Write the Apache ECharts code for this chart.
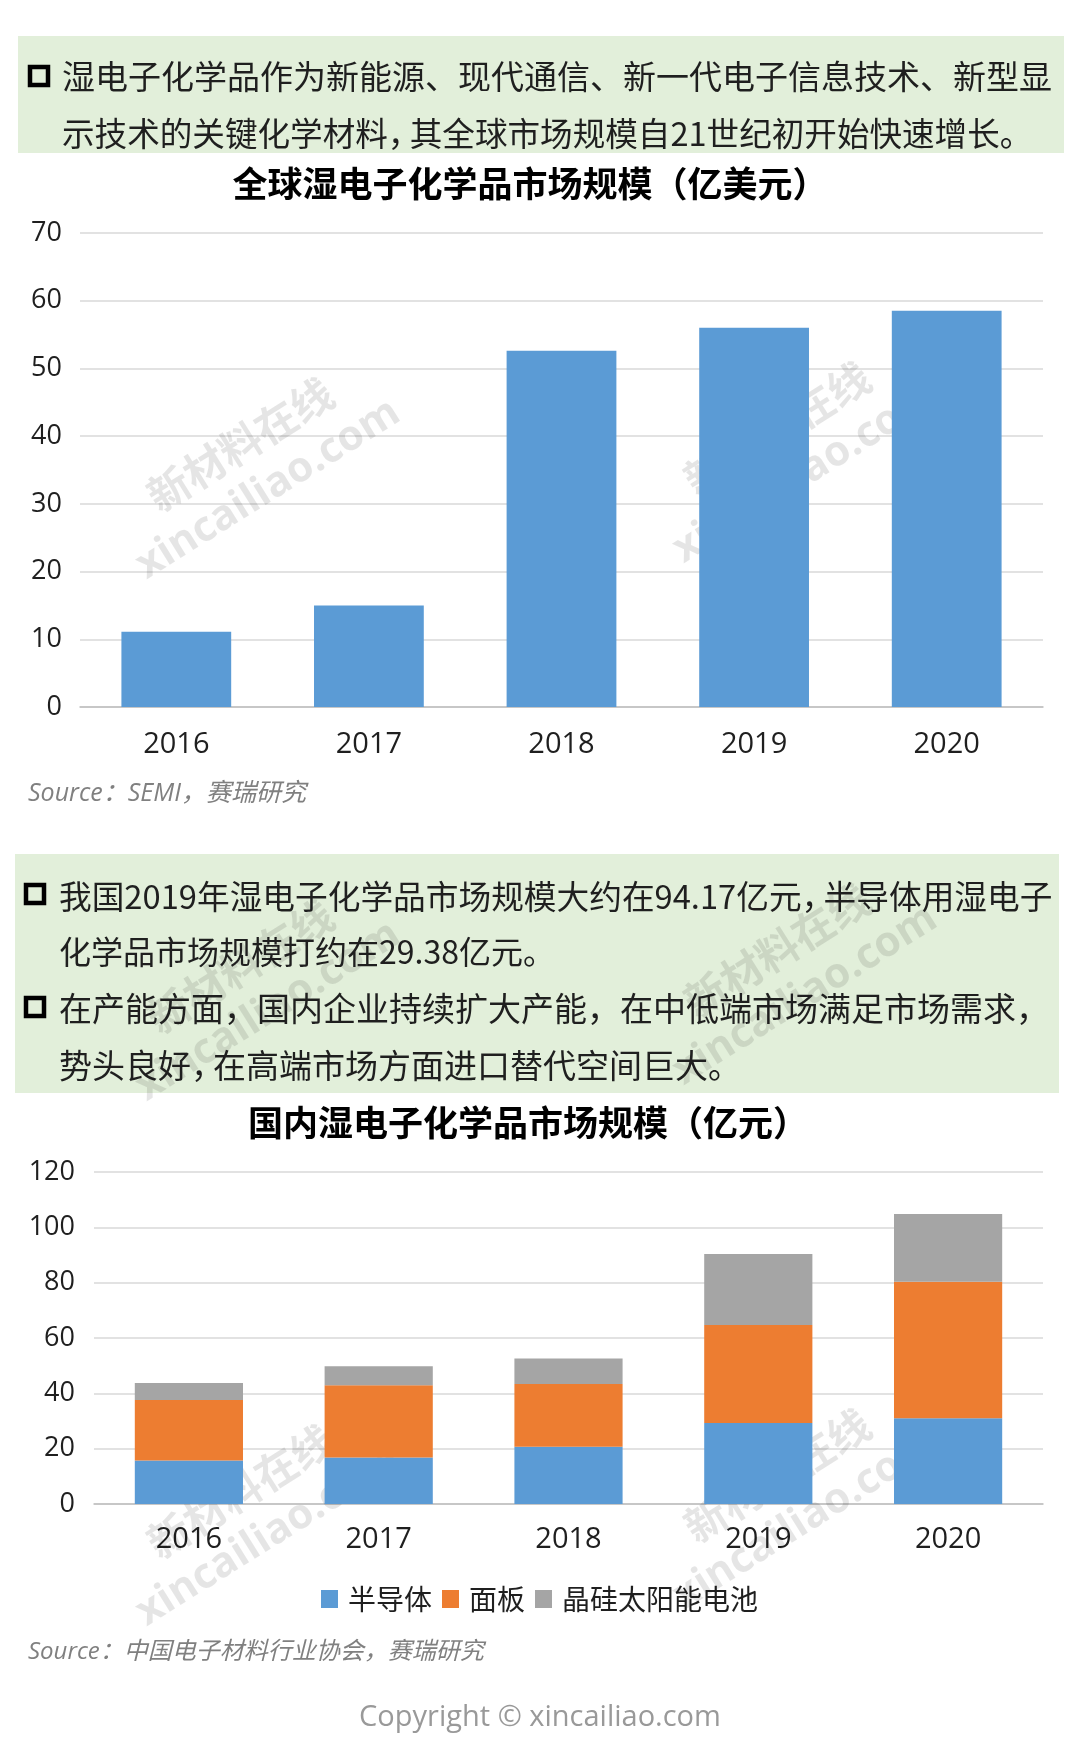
<!DOCTYPE html>
<html>
<head>
<meta charset="utf-8">
<script src="https://cdn.jsdelivr.net/npm/echarts@6/dist/echarts.min.js"></script>
<style>
html,body{margin:0;padding:0;background:#fff;}
#main{width:1080px;height:1757px;}
</style>
</head>
<body>
<div id="main"></div>
<script>
// ---- data ----
const years = ['2016', '2017', '2018', '2019', '2020'];
const globalMarket = [11.1, 15.0, 52.6, 56.0, 58.5];
const semiconductor = [15.7, 16.8, 20.7, 29.3, 31.0];
const panel = [21.9, 26.1, 22.7, 35.4, 49.3];
const solar = [6.1, 6.9, 9.2, 25.7, 24.5];
const seriesNames = ['半导体', '面板', '晶硅太阳能电池'];
const title1 = '全球湿电子化学品市场规模（亿美元）';
const title2 = '国内湿电子化学品市场规模（亿元）';
const box1Lines = ['湿电子化学品作为新能源、现代通信、新一代电子信息技术、新型显',
                   '示技术的关键化学材料，其全球市场规模自21世纪初开始快速增长。'];
const box2Lines = ['我国2019年湿电子化学品市场规模大约在94.17亿元，半导体用湿电子',
                   '化学品市场规模打约在29.38亿元。',
                   '在产能方面，国内企业持续扩大产能，在中低端市场满足市场需求，',
                   '势头良好，在高端市场方面进口替代空间巨大。'];
const source1 = 'Source：SEMI，赛瑞研究';
const source2 = 'Source：中国电子材料行业协会，赛瑞研究';
const copyright = 'Copyright © xincailiao.com';

const CJK = '"Noto Sans CJK SC", "Noto Sans", sans-serif';
const LAT = '"Open Sans", "Noto Sans CJK SC", sans-serif';
const colors = ['#5B9BD5', '#ED7D31', '#A5A5A5'];

function txt(text, x, y, opt) {
  opt = opt || {};
  const size = opt.size || 33;
  const family = opt.family || CJK;
  const fill = opt.color || '#1f1f1f';
  let content = text;
  let rich;
  if (opt.narrowComma) {
    content = text.replace(/，/g, '{c|，}');
    rich = { c: { width: Math.round(size * 0.66), fontSize: size, fontFamily: family, fill: fill,
                  verticalAlign: 'middle', textVerticalAlign: 'middle' } };
  }
  const style = {
    text: content,
    fontSize: size,
    fontFamily: family,
    fontWeight: opt.weight || 'normal',
    fontStyle: opt.style || 'normal',
    fill: fill,
    align: opt.align || 'left', textAlign: opt.align || 'left',
    verticalAlign: 'middle', textVerticalAlign: 'middle'
  };
  if (rich) style.rich = rich;
  return { type: 'text', x: x, y: y, z: opt.z || 5, silent: true, style: style };
}
function bullet(x, y) {
  return { type: 'rect', z: 5, silent: true,
    shape: { x: x, y: y, width: 18, height: 18 },
    style: { fill: 'none', stroke: '#000', lineWidth: 4.5 } };
}
function wm(cx, cy) {
  const st = (t, s) => ({ text: t, fontSize: s, fontWeight: 'bold', fontFamily: LAT,
    fill: 'rgba(0,0,0,0.10)', align: 'center', textAlign: 'center',
    verticalAlign: 'middle', textVerticalAlign: 'middle' });
  return { type: 'group', x: cx, y: cy, rotation: 32 * Math.PI / 180, z: 3, silent: true,
    children: [
      { type: 'text', x: 0, y: -24, z: 3, style: st('新材料在线', 42) },
      { type: 'text', x: 0, y: 25, z: 3, style: st('xincailiao.com', 42) }
    ] };
}

const graphics = [
  { type: 'rect', z: 1, silent: true, shape: { x: 18, y: 36, width: 1046, height: 117 }, style: { fill: '#E2EFDA' } },
  { type: 'rect', z: 1, silent: true, shape: { x: 15, y: 854, width: 1044, height: 239 }, style: { fill: '#E2EFDA' } },
  bullet(30, 67),
  txt(box1Lines[0], 62, 76),
  txt(box1Lines[1], 62, 134, { size: 32.6, narrowComma: true }),
  txt(title1, 530, 184, { size: 35, weight: 'bold', color: '#000', align: 'center' }),
  txt(source1, 28, 794, { size: 25, family: LAT, style: 'italic', color: '#808080' }),
  bullet(26, 885),
  txt(box2Lines[0], 59, 897, { size: 32.7, narrowComma: true }),
  txt(box2Lines[1], 59, 952, { size: 32 }),
  bullet(26, 998),
  txt(box2Lines[2], 59, 1008),
  txt(box2Lines[3], 59, 1065, { narrowComma: true }),
  txt(title2, 528, 1123, { size: 35, weight: 'bold', color: '#000', align: 'center' }),
  txt(source2, 28, 1652, { size: 24, family: LAT, style: 'italic', color: '#808080' }),
  txt(copyright, 540, 1718, { size: 29, family: LAT, color: '#999999', align: 'center' }),
  wm(255, 468), wm(792, 452), wm(255, 990), wm(792, 974), wm(255, 1515), wm(792, 1499)
];

function xAx(gi, margin) {
  return { type: 'category', gridIndex: gi, data: years,
    axisTick: { show: false },
    axisLine: { lineStyle: { color: '#BFBFBF', width: 1.5 } },
    axisLabel: { fontSize: 29, fontFamily: LAT, color: '#1f1f1f', margin: margin } };
}
function yAx(gi, max, interval, margin) {
  return { type: 'value', gridIndex: gi, min: 0, max: max, interval: interval,
    axisLine: { show: false }, axisTick: { show: false },
    splitLine: { lineStyle: { color: '#D9D9D9', width: 1.5 } },
    axisLabel: { fontSize: 27, fontFamily: LAT, color: '#1f1f1f', margin: margin } };
}

const chart = echarts.init(document.getElementById('main'), null, { renderer: 'canvas' });
chart.setOption({
  animation: false,
  backgroundColor: '#ffffff',
  grid: [
    { left: 80, right: 37, top: 233, height: 474 },
    { left: 94, right: 37, top: 1172, height: 332 }
  ],
  xAxis: [xAx(0, 23), xAx(1, 21)],
  yAxis: [yAx(0, 70, 10, 18), yAx(1, 120, 20, 19)],
  legend: {
    data: seriesNames, left: 316, top: 1580, icon: 'rect',
    itemWidth: 17, itemHeight: 18, itemGap: 10,
    textStyle: { fontSize: 28, fontFamily: CJK, color: '#1f1f1f', padding: [0, 0, 0, 5] }
  },
  graphic: graphics,
  series: [
    { type: 'bar', name: '全球', xAxisIndex: 0, yAxisIndex: 0, data: globalMarket,
      barWidth: '57%', itemStyle: { color: colors[0] }, z: 10 },
    { type: 'bar', name: seriesNames[0], xAxisIndex: 1, yAxisIndex: 1, data: semiconductor, stack: 'cn',
      barWidth: '57%', itemStyle: { color: colors[0] }, z: 10 },
    { type: 'bar', name: seriesNames[1], xAxisIndex: 1, yAxisIndex: 1, data: panel, stack: 'cn',
      barWidth: '57%', itemStyle: { color: colors[1] }, z: 10 },
    { type: 'bar', name: seriesNames[2], xAxisIndex: 1, yAxisIndex: 1, data: solar, stack: 'cn',
      barWidth: '57%', itemStyle: { color: colors[2] }, z: 10 }
  ]
});
</script>
</body>
</html>
